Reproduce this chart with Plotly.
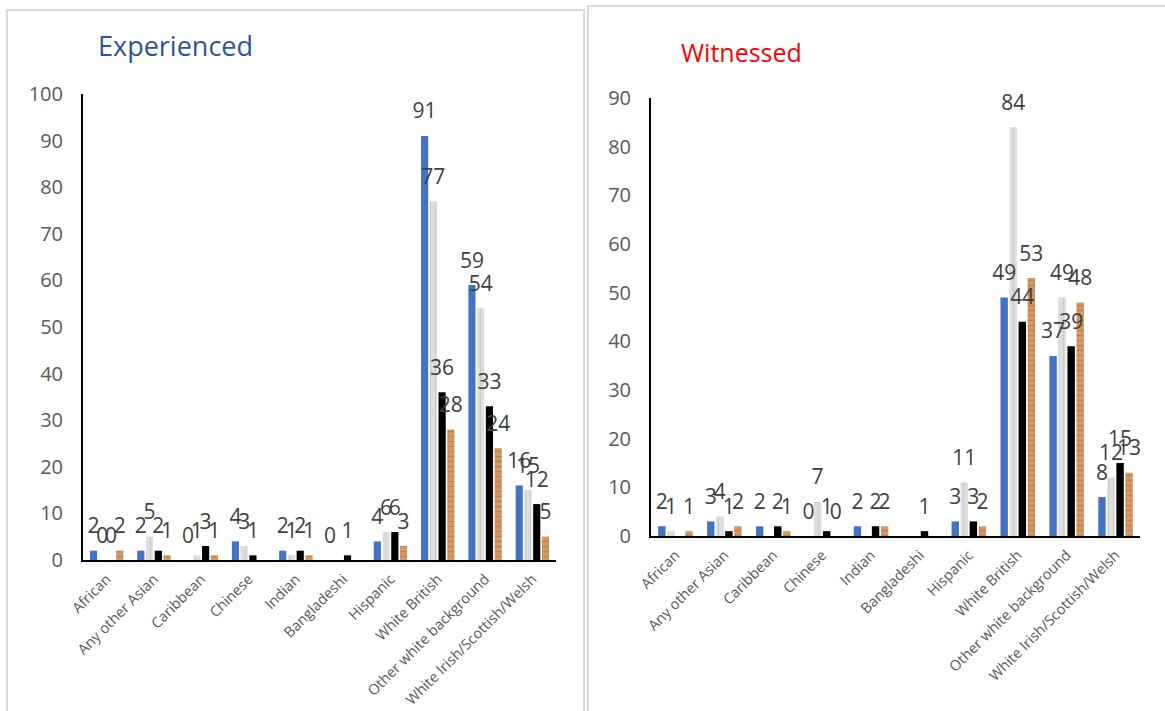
import plotly.graph_objects as go

categories = ["African", "Any other Asian", "Caribbean", "Chinese", "Indian",
              "Bangladeshi", "Hispanic", "White British", "Other white background",
              "White Irish/Scottish/Welsh"]

# Experienced
exp_blue = [2, 2, 0, 4, 2, 0, 4, 91, 59, 16]
exp_gray = [0, 5, 1, 3, 1, None, 6, 77, 54, 15]
exp_black = [0, 2, 3, 1, 2, 1, 6, 36, 33, 12]
exp_orange = [2, 1, 1, None, 1, None, 3, 28, 24, 5]

# Witnessed
wit_blue = [2, 3, 2, 0, 2, None, 3, 49, 37, 8]
wit_gray = [1, 4, None, 7, None, None, 11, 84, 49, 12]
wit_black = [None, 1, 2, 1, 2, 1, 3, 44, 39, 15]
wit_orange = [1, 2, 1, 0, 2, None, 2, 53, 48, 13]

W, H = 1165, 711
FONT = "Open Sans"
BARGAP = 0.26

styles = [
    dict(color="#4472c4"),
    dict(color="#dedede", pattern=dict(shape="|", fgcolor="#b8b8b8", size=5, solidity=0.25)),
    dict(color="#000000"),
    dict(color="#d39a66", pattern=dict(shape="-", fgcolor="#a86a3c", size=5, solidity=0.3)),
]

fig = go.Figure()


def add_panel(series, xa, ya):
    for vals, st in zip(series, styles):
        fig.add_trace(go.Bar(
            x=categories, y=vals, xaxis=xa, yaxis=ya,
            marker=dict(line=dict(width=0), **st),
            showlegend=False, hoverinfo="skip",
        ))
    for vals in series:
        fig.add_trace(go.Scatter(
            x=categories, y=vals, xaxis=xa, yaxis=ya,
            mode="markers+text",
            marker=dict(size=18, opacity=0),
            text=[None if v is None else str(v) for v in vals],
            textposition="top center", cliponaxis=False,
            textfont=dict(family=FONT, size=21, color="#404040"),
            showlegend=False, hoverinfo="skip",
        ))


add_panel([exp_blue, exp_gray, exp_black, exp_orange], "x", "y")
add_panel([wit_blue, wit_gray, wit_black, wit_orange], "x2", "y2")


def px(x):
    return x / W


def py(y):
    return 1 - y / H


tickfont = dict(family=FONT, size=20, color="#595959")
xtickfont = dict(family=FONT, size=14.5, color="#595959")
axis_common = dict(showgrid=False, zeroline=False, showline=True, linecolor="#000000",
                   linewidth=2, ticks="", automargin=False)

fig.update_layout(
    width=W, height=H, autosize=False,
    margin=dict(l=0, r=0, t=0, b=0, pad=0, autoexpand=False),
    paper_bgcolor="white", plot_bgcolor="white",
    barmode="group", bargap=BARGAP, bargroupgap=0.18,
    scattermode="group", scattergap=BARGAP,
    xaxis=dict(domain=[px(83), px(556)], anchor="y", tickangle=-45,
               tickfont=xtickfont, ticklabelstandoff=3, **axis_common),
    yaxis=dict(domain=[py(560), py(94)], anchor="x", range=[0, 100], dtick=10,
               tickfont=tickfont, ticklabelstandoff=14, **axis_common),
    xaxis2=dict(domain=[px(651), px(1140)], anchor="y2", tickangle=-45,
                tickfont=xtickfont, ticklabelstandoff=3, **axis_common),
    yaxis2=dict(domain=[py(536), py(98)], anchor="x2", range=[0, 90], dtick=10,
                tickfont=tickfont, ticklabelstandoff=14, **axis_common),
    annotations=[
        dict(text="Experienced", x=px(96), y=py(46), xref="paper", yref="paper",
             xanchor="left", yanchor="middle", showarrow=False,
             font=dict(family=FONT, size=27, color="#2f5597")),
        dict(text="Witnessed", x=px(679), y=py(52), xref="paper", yref="paper",
             xanchor="left", yanchor="middle", showarrow=False,
             font=dict(family=FONT, size=25, color="#ff0000")),
    ],
    shapes=[
        dict(type="path", xref="paper", yref="paper",
             path=f"M {px(7)},0 L {px(7)},{py(10)} L {px(584)},{py(10)} L {px(584)},0",
             line=dict(color="#d9d9d9", width=2)),
        dict(type="path", xref="paper", yref="paper",
             path=f"M {px(588)},0 L {px(588)},{py(6)} L 1,{py(6)}",
             line=dict(color="#d9d9d9", width=2)),
    ],
)

fig.write_html(
    "out.html",
    config={"displayModeBar": False, "staticPlot": True},
    post_script="document.body.style.margin='0';document.body.style.padding='0';"
                "document.documentElement.style.overflow='hidden';",
)
